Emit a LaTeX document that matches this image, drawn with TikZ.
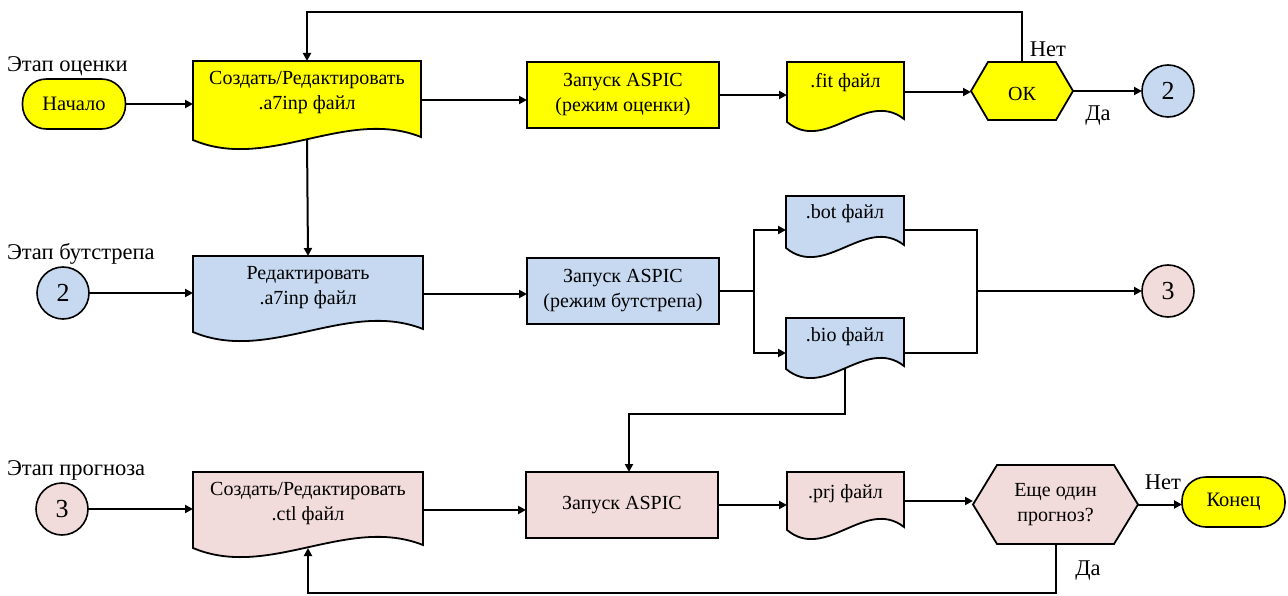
\documentclass[tikz,border=0pt]{standalone}
\usepackage{fontspec}
\setmainfont{Liberation Serif}
\usetikzlibrary{arrows.meta,calc}
\definecolor{yel}{HTML}{FFFF00}
\definecolor{blu}{HTML}{C6D9F1}
\definecolor{pnk}{HTML}{F2DCDB}
\newcommand\docshape[5]{%
  \draw[docline, fill=#5] (#1,#2) -- (#3,#2) -- (#3,{#4-3})
    .. controls ({#1+0.67*(#3-#1)},{#4-33}) and ({#1+0.33*(#3-#1)},{#4+32}) .. (#1,#4) -- cycle;}
\newcommand\hexshape[6]{%
  \draw[docline, fill=#6] (#1,{(#2+#4)/2}) -- ({#1+#5},#2) -- ({#3-#5},#2) -- (#3,{(#2+#4)/2})
    -- ({#3-#5},#4) -- ({#1+#5},#4) -- cycle;}
\begin{document}
\begin{tikzpicture}[x=1pt,y=-1pt,
  every node/.style={inner sep=0pt, outer sep=0pt},
  body/.style={font=\fontsize{20}{25}\selectfont, align=center},
  lab/.style={font=\fontsize{22.5}{25}\selectfont},
  num/.style={font=\fontsize{26}{28}\selectfont},
  line/.style={line width=2pt},
  arr/.style={line width=2pt, -{Triangle[length=8pt,width=8pt]}},
  docline/.style={line width=1.8pt, line join=miter},
  area/.style={rectangle, draw=none},
  term/.style={rectangle, rounded corners=24pt, draw, line width=1.6pt, fill=yel,
    minimum width=103, minimum height=50, font=\fontsize{20.5}{24}\selectfont},
  proc/.style={rectangle, draw, line width=2.2pt, minimum width=192, minimum height=66, body},
  conn/.style={circle, draw, line width=1.6pt, minimum size=52, num}
]
\useasboundingbox (0,0) rectangle (1288,596);

% stage labels
\node[lab, anchor=base west] (l1) at (7,72) {Этап оценки};
\node[lab, anchor=base west] (l2) at (7,260) {Этап бутстрепа};
\node[lab, anchor=base west] (l3) at (7,475) {Этап прогноза};

% row 1
\node[term] (start) at (74,104) {Начало};
\docshape{193}{61}{421}{140}{yel}
\node[area, minimum width=228, minimum height=78] (d1) at (307,100) {};
\node[body] (d1t) at (307,93) {Создать/Редактировать\\.a7inp файл};
\node[proc, fill=yel] (z1) at (623,95) {Запуск ASPIC\\(режим оценки)};
\docshape{787}{62}{904}{122}{yel}
\node[area, minimum width=117, minimum height=60] (fit) at (845.5,92) {};
\node[body] (fitt) at (845.5,83) {.fit файл};
\hexshape{971}{62}{1073}{120}{17}{yel}
\node[area, body, minimum width=102, minimum height=58] (ok) at (1022,91) {};
\node[body] (okt) at (1022,94) {ОК};
\node[conn, fill=blu] (c2a) at (1168,91) {2};

% row 2
\node[conn, fill=blu] (c2b) at (63,293) {2};
\docshape{193}{256}{423}{332}{blu}
\node[area, minimum width=230, minimum height=76] (d2) at (308,294) {};
\node[body] (d2t) at (308,288) {Редактировать\\.a7inp файл};
\node[proc, fill=blu] (z2) at (623,291) {Запуск ASPIC\\(режим бутстрепа)};
\docshape{786}{196}{904}{248}{blu}
\node[area, minimum width=118, minimum height=52] (bot) at (845,222) {};
\node[body] (bott) at (845,214) {.bot файл};
\docshape{786}{318}{904}{369}{blu}
\node[area, minimum width=118, minimum height=51] (bio) at (845,343.5) {};
\node[body] (biot) at (845,337) {.bio файл};
\node[conn, fill=pnk] (c3a) at (1168,291) {3};

% row 3
\node[conn, fill=pnk] (c3b) at (62,509) {3};
\docshape{193}{472}{423}{548}{pnk}
\node[area, minimum width=230, minimum height=76] (d3) at (308,510) {};
\node[body] (d3t) at (308,504) {Создать/Редактировать\\.ctl файл};
\node[proc, fill=pnk] (z3) at (622,505) {Запуск ASPIC};
\docshape{787}{472}{904}{530}{pnk}
\node[area, minimum width=117, minimum height=58] (prj) at (845.5,501) {};
\node[body] (prjt) at (845.5,494) {.prj файл};
\hexshape{973}{465}{1138}{544}{24}{pnk}
\node[area, body, minimum width=165, minimum height=79] (q) at (1055.5,504.5) {Еще один\\прогноз?};
\node[term] (end) at (1233.5,502) {Конец};

% labels on connectors
\node[lab] (no1) at (1048,49) {Нет};
\node[lab] (yes1) at (1098,116) {Да};
\node[lab] (no2) at (1163,482) {Нет};
\node[lab] (yes2) at (1088,571) {Да};

% junction coordinates
\coordinate (looptop) at (0,12);
\coordinate (jl) at (754,291);
\coordinate (jb) at (754,230);
\coordinate (jo) at (754,353);
\coordinate (jr) at (977,291);

% connectors row 1
\draw[arr] (start) -- (start -| d1.west);
\draw[arr] (d1.east) -- (d1.east -| z1.west);
\draw[arr] (z1.east) -- (z1.east -| fit.west);
\draw[arr] (fit.east) -- (fit.east -| ok.west);
\draw[arr] (ok.east) -- (ok.east -| c2a.west);
\draw[arr] (ok.north) |- (looptop -| d1.north) -- (d1.north);
\draw[arr] (d1.south) -- (d2.north);

% connectors row 2
\draw[arr] (c2b) -- (c2b -| d2.west);
\draw[arr] (d2.east) -- (d2.east -| z2.west);
\draw[line] (z2.east) -- (jl);
\draw[arr] (jl) |- (jb -| bot.west);
\draw[arr] (jl) |- (jo -| bio.west);
\draw[line] (bot.east |- jb) -| (jr);
\draw[line] (bio.east |- jo) -| (jr);
\draw[arr] (jr) -- (jr -| c3a.west);
\draw[arr] (bio.south) -- ++(0,45) -| ([xshift=7pt]z3.north);

% connectors row 3
\draw[arr] (c3b) -- (c3b -| d3.west);
\draw[arr] (d3.east) -- (d3.east -| z3.west);
\draw[arr] (z3.east) -- (z3.east -| prj.west);
\draw[arr] (prj.east) -- (prj.east -| q.west);
\draw[arr] (q.east) -- (q.east -| end.west);
\draw[arr] (q.south) -- ++(0,49) -| (d3.south);
\end{tikzpicture}
\end{document}
